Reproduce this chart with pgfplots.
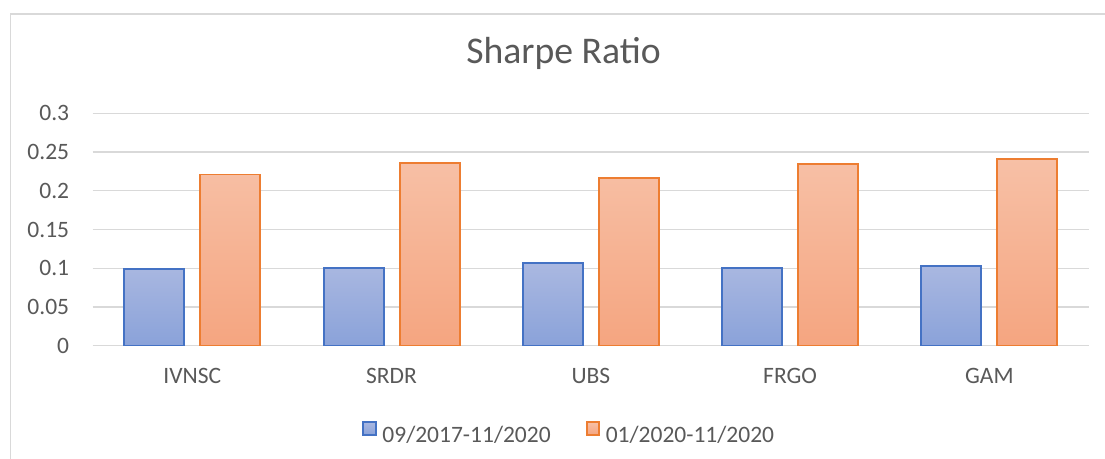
\documentclass[border=0pt]{standalone}
\usepackage{pgfplots}
\pgfplotsset{compat=1.18}
\usepackage{fontspec}
\setmainfont{Carlito}
\definecolor{txtgray}{HTML}{595959}
\definecolor{gridgray}{HTML}{D9D9D9}
\definecolor{blueTop}{HTML}{AAB8E1}
\definecolor{blueBot}{HTML}{8AA2D9}
\definecolor{blueEdge}{HTML}{4472C4}
\definecolor{orTop}{HTML}{F7C0A6}
\definecolor{orBot}{HTML}{F5A580}
\definecolor{orEdge}{HTML}{ED7D31}
\begin{document}
\begin{tikzpicture}
\path[use as bounding box] (0,0) rectangle (1105bp,459bp);
\draw[gridgray, line width=1.6bp] (10.3bp,-2bp) -- (10.3bp,444.7bp) -- (1110bp,444.7bp);
\begin{axis}[
  at={(92.7bp,113.3bp)}, anchor=south west,
  scale only axis, width=996.3bp, height=232.4bp,
  xmin=-0.5, xmax=4.5, ymin=0, ymax=0.3,
  xtick={0,1,2,3,4},
  xticklabels={IVNSC,SRDR,UBS,FRGO,GAM},
  ytick={0,0.05,0.1,0.15,0.2,0.25,0.3},
  yticklabels={0,0.05,0.1,0.15,0.2,0.25,0.3},
  axis line style={draw=none},
  tick style={draw=none},
  major tick length=0pt,
  ymajorgrids,
  major grid style={gridgray, line width=1.4bp},
  font=\fontsize{23.5bp}{28bp}\selectfont,
  ticklabel style={text=txtgray},
  yticklabel style={anchor=east, inner sep=0pt, xshift=-23.4bp},
  xticklabel style={anchor=base, inner sep=0pt, yshift=-37.6bp},
  ybar, bar width=60bp,
  title={Sharpe Ratio},
  title style={at={(0.4726,1.1893)}, anchor=base, inner sep=0pt,
    font=\fontsize{37.7bp}{44bp}\selectfont, text=txtgray},
  legend columns=2,
  legend style={at={(0.4773,-0.324)}, anchor=north, draw=none, fill=none,
    inner sep=0pt, outer sep=0pt,
    nodes={inner sep=0pt, text=txtgray},
    /tikz/every odd column/.append style={column sep=5.7bp},
    /tikz/every even column/.append style={column sep=35bp}},
  legend image code/.code={\draw[#1] (0.9bp,0.3bp) rectangle (13.4bp,13.1bp);},
]
\addplot[draw=blueEdge, line width=1.9bp, top color=blueTop, bottom color=blueBot, bar shift=-38bp]
  coordinates {(0,0.099) (1,0.1005) (2,0.1065) (3,0.1002) (4,0.1025)};
\addplot[draw=orEdge, line width=1.9bp, top color=orTop, bottom color=orBot, bar shift=38bp]
  coordinates {(0,0.221) (1,0.236) (2,0.216) (3,0.235) (4,0.241)};
\legend{09/2017-11/2020, 01/2020-11/2020}
\end{axis}
\end{tikzpicture}
\end{document}
